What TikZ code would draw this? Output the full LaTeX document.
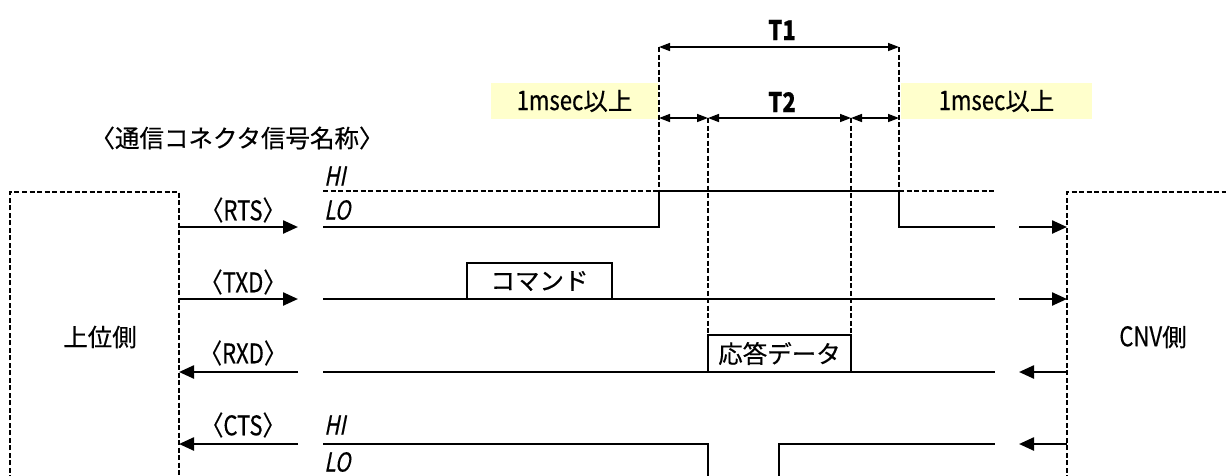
\documentclass[tikz,border=0pt]{standalone}
\usepackage{fontspec}
\setmainfont[FakeBold=0.4]{Noto Sans CJK JP}
\newfontfamily\narrowfont[FakeStretch=0.82,FakeBold=0.4,RawFeature=+halt]{Noto Sans CJK JP}
\newfontfamily\slantfont[FakeStretch=0.8,FakeSlant=0.2,FakeBold=0.4]{Noto Sans CJK JP}
\usetikzlibrary{arrows.meta}
\definecolor{notefill}{RGB}{255,255,204}
\newcommand\latn[1]{{\narrowfont\fontsize{27}{27}\selectfont #1}}

\begin{document}
\begin{tikzpicture}[x=1pt,y=-1pt,
  jp/.style={font=\fontsize{24.5}{24.5}\selectfont, inner sep=0pt},
  hilo/.style={font=\slantfont\fontsize{26}{26}\selectfont, anchor=west, inner sep=0pt},
  tlabel/.style={font=\narrowfont\bfseries\fontsize{27}{27}\selectfont, inner sep=0pt},
  note/.style={jp, fill=notefill, minimum height=36pt},
  frame/.style={jp, draw, fill=white, line width=1.3pt},
  boxline/.style={dash pattern=on 5pt off 2.5pt, line width=1.2pt},
  guide/.style={dash pattern=on 5pt off 2.5pt, line width=1.4pt},
  wave/.style={line width=2pt},
  thinwave/.style={line width=1.3pt},
  sigarrow/.style={line width=2.4pt, -{Triangle[length=15pt,width=13pt]}},
  dimarrow/.style={line width=1.5pt, {Triangle[length=11pt,width=8pt]}-{Triangle[length=11pt,width=8pt]}}]
  \useasboundingbox (0,0) rectangle (1226,475);

  % Minimum time notes
  \node[note, minimum width=167pt] (note1) at (574.5,101) {\latn{1msec}以上};
  \node[note, minimum width=191pt] (note2) at (996.5,101) {\latn{1msec}以上};

  % Host side (open at the bottom)
  \draw[boxline] (10,480) -- (10,192) -- (179,192) -- (179,480);
  \node[jp] (host) at (100,337) {上位側};
  \node[jp] (title) at (237,138) {〈通信コネクタ信号名称〉};

  % CNV side
  \draw[boxline] (1067,480) -- (1067,192) -- (1230,192);
  \node[jp] (cnv) at (1153,337) {\latn{CNV}側};

  % Connector ends
  \coordinate (hostRTS) at (179,227);  \coordinate (inRTS) at (298,227);
  \coordinate (hostTXD) at (179,299);  \coordinate (inTXD) at (298,299);
  \coordinate (hostRXD) at (179,372);  \coordinate (inRXD) at (298,372);
  \coordinate (hostCTS) at (179,444);  \coordinate (inCTS) at (298,444);
  \coordinate (cnvRTS) at (1067,227);  \coordinate (outRTS) at (1019,227);
  \coordinate (cnvTXD) at (1067,299);  \coordinate (outTXD) at (1019,299);
  \coordinate (cnvRXD) at (1067,372);  \coordinate (outRXD) at (1019,372);
  \coordinate (cnvCTS) at (1067,444);  \coordinate (outCTS) at (1019,444);

  % Signal names
  \node[jp] (nmRTS) at (243,210) {\latn{〈RTS〉}};
  \node[jp] (nmTXD) at (243,282) {\latn{〈TXD〉}};
  \node[jp] (nmRXD) at (243,353) {\latn{〈RXD〉}};
  \node[jp] (nmCTS) at (243,425) {\latn{〈CTS〉}};

  % Direction arrows
  \draw[sigarrow] (hostRTS) -- (inRTS);
  \draw[sigarrow] (hostTXD) -- (inTXD);
  \draw[sigarrow] (inRXD) -- (hostRXD);
  \draw[sigarrow] (inCTS) -- (hostCTS);
  \draw[sigarrow] (outRTS) -- (cnvRTS);
  \draw[sigarrow] (outTXD) -- (cnvTXD);
  \draw[sigarrow] (cnvRXD) -- (outRXD);
  \draw[sigarrow] (cnvCTS) -- (outCTS);

  % Level marks
  \node[hilo] (hiRTS) at (324,176) {HI};
  \node[hilo] (loRTS) at (324,210) {LO};
  \node[hilo] (hiCTS) at (324,425) {HI};
  \node[hilo] (loCTS) at (324,462) {LO};

  % Timing guides
  \draw[guide] (659,47) -- (659,191);
  \draw[guide] (899,47) -- (899,191);
  \draw[guide] (708,118) -- (708,335);
  \draw[guide] (851,118) -- (851,335);

  % T1 / T2
  \draw[dimarrow] (659,47) -- (899,47);
  \node[tlabel] (t1) at (782,30) {T1};
  \draw[dimarrow] (659,118) -- (708,118);
  \draw[dimarrow] (708,118) -- (851,118);
  \draw[dimarrow] (851,118) -- (899,118);
  \node[tlabel] (t2) at (782,102) {T2};

  % RTS
  \draw[guide] (323,191) -- (659,191);
  \draw[guide] (899,191) -- (995,191);
  \draw[wave] (323,227) -- (659,227) -- (659,191) -- (899,191) -- (899,227) -- (995,227);

  % TXD
  \draw[thinwave] (323,299) -- (995,299);
  \node[frame, minimum width=145pt, minimum height=36pt] (cmd) at (539.5,281) {コマンド};

  % RXD
  \draw[thinwave] (323,372) -- (995,372);
  \node[frame, minimum width=143pt, minimum height=37pt] (resp) at (779.5,353.5) {応答データ};

  % CTS
  \draw[wave] (323,444) -- (708,444) -- (708,480);
  \draw[wave] (779,480) -- (779,444) -- (995,444);
\end{tikzpicture}
\end{document}
